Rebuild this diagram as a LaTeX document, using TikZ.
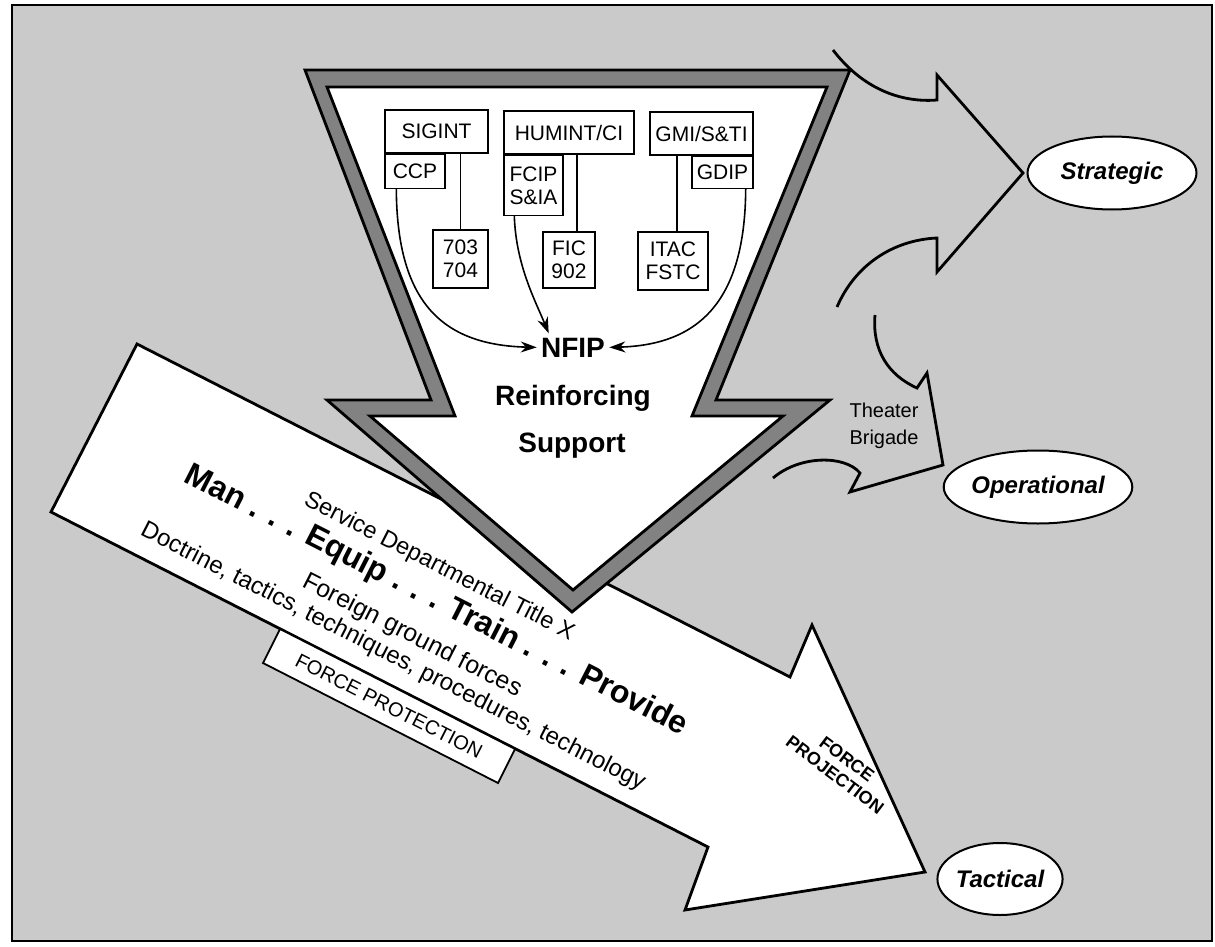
\documentclass[tikz,border=0pt]{standalone}
\usepackage{fontspec}
\setmainfont{Liberation Sans}
\usetikzlibrary{shapes.geometric,arrows.meta,calc}
\definecolor{screen}{RGB}{202,202,202}
\definecolor{band}{RGB}{130,130,130}
\begin{document}
\begin{tikzpicture}[x=0.5pt,y=-0.5pt,
  box/.style={draw,line width=0.7pt,fill=white,inner sep=0pt,
    font=\fontsize{10.5}{11.5}\selectfont,align=center},
  oval/.style={draw,ellipse,line width=1pt,fill=white,inner sep=0pt,
    font=\fontsize{12}{14}\bfseries\itshape\selectfont},
  feed/.style={line width=0.8pt,-{Stealth[length=8pt,width=5.5pt]}},
  link/.style={line width=0.7pt},
  outline/.style={line width=1.4pt,line join=miter},
  core/.style={font=\fontsize{14}{16}\bfseries\selectfont,inner sep=2pt,anchor=base},
  slant/.style={rotate=-27,inner sep=0pt},
]
\useasboundingbox (0,0) rectangle (1215,947);
\fill[white] (0,0) rectangle (1215,947);
\draw[fill=screen,line width=1pt] (12,5) rectangle (1212,941);

% force projection arrow
\draw[outline,fill=white] (137,344) -- (790,677) -- (812,625) -- (925,872)
  -- (685,910) -- (708,847) -- (51,512) -- cycle;

% force protection tab under the shaft
\draw[line width=0.9pt,fill=white] (280,629) -- (263,663) -- (498,783) -- (515,749) -- cycle;
\node[slant,font=\fontsize{10}{12}\selectfont] (fprot) at (389,706) {FORCE PROTECTION};

% reinforcing support arrow with shaded rim
\draw[outline,fill=band] (305,70) -- (850,70) -- (716,400) -- (830,400)
  -- (572,612) -- (327,400) -- (431,400) -- cycle;
\draw[outline,fill=white] (327,87) -- (827,87) -- (692,416) -- (783,416)
  -- (573,590) -- (370,416) -- (455,416) -- cycle;

% texts along the shaft
\node[slant,font=\fontsize{11.8}{14}\selectfont] (title) at (439,567) {Service Departmental Title X};
\node[slant,font=\fontsize{16}{18}\bfseries\selectfont] (mission) at (436,601)
  {Man . . . Equip . . . Train . . . Provide};
\node[slant,font=\fontsize{12.4}{14}\selectfont] (foreign) at (412,636) {Foreign ground forces};
\node[slant,font=\fontsize{12}{14}\selectfont] (doctrine) at (393,657)
  {Doctrine, tactics, techniques, procedures, technology};
\node[rotate=-37,inner sep=0pt,align=center,font=\fontsize{9}{10}\bfseries\selectfont]
  (fproj) at (841,767) {FORCE\\PROJECTION};

% program boxes
\node[box,minimum width=51.5pt,minimum height=21.5pt] (sigint) at (436.5,131.5) {SIGINT};
\node[box,anchor=north west,minimum width=30pt,minimum height=17pt] (ccp) at (sigint.south west) {CCP};
\node[box,minimum width=27.5pt,minimum height=29pt] (c703) at (460.5,259) {703\\704};
\node[box,minimum width=65pt,minimum height=21.5pt] (humint) at (569,132.5) {HUMINT/CI};
\node[box,anchor=north west,minimum width=29.5pt,minimum height=30pt] (fcip) at (humint.south west) {FCIP\\S\&IA};
\node[box,minimum width=26pt,minimum height=28pt] (fic) at (569,260) {FIC\\902};
\node[box,minimum width=51.5pt,minimum height=21.5pt] (gmi) at (701.5,133.5) {GMI/S\&TI};
\node[box,anchor=north east,minimum width=30.5pt,minimum height=16pt] (gdip) at (gmi.south east) {GDIP};
\node[box,minimum width=35pt,minimum height=29pt] (itac) at (673,261) {ITAC\\FSTC};

\draw[link] (c703.north) -- (c703.north |- sigint.south);
\coordinate (ficlink) at ($(fic.north)+(8,0)$);
\draw[link] (ficlink) -- (ficlink |- humint.south);
\coordinate (itaclink) at ($(itac.north)+(4,0)$);
\draw[link] (itaclink) -- (itaclink |- gmi.south);

% center texts
\node[core] (nfip) at (573,357) {NFIP};
\node[core] (reinf) at (573,405) {Reinforcing};
\node[core] (supp) at (572,452) {Support};

% feeds into NFIP
\coordinate (ccpout) at ($(ccp.south west)+(12,0)$);
\coordinate (fcipout) at ($(fcip.south west)+(11,0)$);
\coordinate (gdipout) at ($(gdip.south east)+(-8,0)$);
\draw[feed] (ccpout) .. controls (397,300) and (440,345) .. (nfip.west);
\draw[feed] (fcipout) .. controls (516,265) and (535,300) .. ($(nfip.north west)+(12,0)$);
\draw[feed] (gdipout) .. controls (745,300) and (700,345) .. (nfip.east);

% curved arrows to the levels
\draw[outline] (833,50) .. controls (862,88) and (900,103) .. (937,100) -- (937,75)
  -- (1023,173) -- (937,272) -- (937,238) .. controls (893,240) and (855,265) .. (837,307);
\draw[outline] (875,315) .. controls (872,350) and (888,375) .. (917,388) -- (927,373)
  -- (943,465) -- (850,492) -- (860,473) .. controls (845,455) and (800,455) .. (773,478);
\node[align=center,inner sep=0pt,font=\fontsize{10}{13.5}\selectfont] (theater) at (884,426) {Theater\\Brigade};

% levels
\node[oval,minimum width=84.5pt,minimum height=36.5pt] (strategic) at (1112,173) {Strategic};
\node[oval,minimum width=83.5pt,minimum height=36.5pt] (operational) at (1038,487) {Operational};
\node[oval,minimum width=61pt,minimum height=36pt] (tactical) at (1000,879) {Tactical};
\end{tikzpicture}
\end{document}
